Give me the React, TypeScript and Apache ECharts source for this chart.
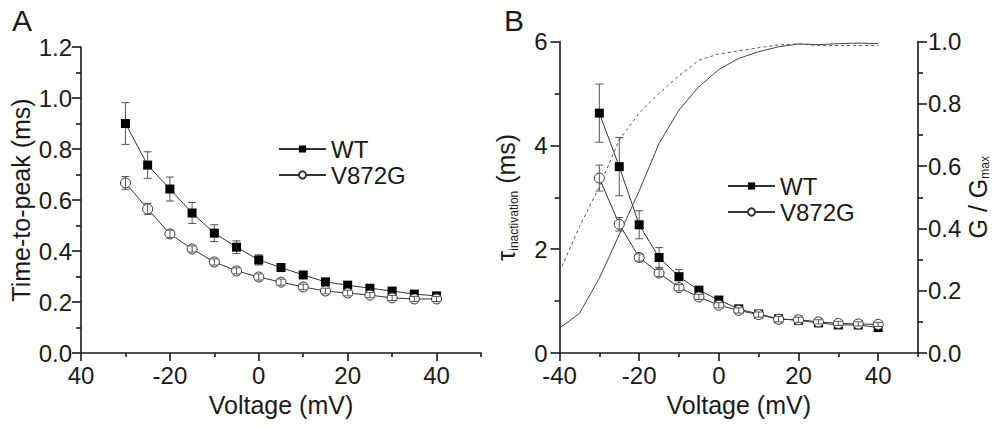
import React, { useEffect, useRef } from 'react';
import * as echarts from 'echarts';

// ---------- data ----------
const voltages = [-30, -25, -20, -15, -10, -5, 0, 5, 10, 15, 20, 25, 30, 35, 40];

// Panel A: time-to-peak (ms)
const ttpWT = [0.9, 0.737, 0.643, 0.549, 0.47, 0.415, 0.365, 0.335, 0.306, 0.279, 0.266, 0.254, 0.243, 0.231, 0.224];
const ttpWTErr = [0.082, 0.052, 0.047, 0.041, 0.033, 0.025, 0.02, 0.015, 0.012, 0.012, 0.01, 0.01, 0.01, 0.01, 0.01];
const ttpMut = [0.667, 0.565, 0.467, 0.408, 0.357, 0.322, 0.298, 0.278, 0.259, 0.243, 0.235, 0.227, 0.216, 0.212, 0.212];
const ttpMutErr = [0.025, 0.022, 0.015, 0.012, 0.012, 0.012, 0.012, 0.012, 0.011, 0.011, 0.011, 0.01, 0.01, 0.01, 0.01];

// Panel B: tau inactivation (ms)
const tauWT = [4.62, 3.59, 2.47, 1.84, 1.47, 1.21, 1.02, 0.85, 0.75, 0.66, 0.63, 0.58, 0.54, 0.54, 0.49];
const tauWTErr = [0.56, 0.56, 0.27, 0.19, 0.135, 0.07, 0.05, 0.04, 0.04, 0.04, 0.04, 0.04, 0.04, 0.04, 0.04];
const tauMut = [3.37, 2.48, 1.84, 1.54, 1.26, 1.08, 0.92, 0.82, 0.74, 0.65, 0.64, 0.6, 0.57, 0.56, 0.55];
const tauMutErr = [0.25, 0.13, 0.07, 0.07, 0.06, 0.05, 0.05, 0.05, 0.05, 0.05, 0.05, 0.04, 0.04, 0.04, 0.04];

// Panel B: G / Gmax curves
const gvVoltages = [-40, -35, -30, -25, -20, -15, -10, -5, 0, 5, 10, 15, 20, 25, 30, 35, 40];
const gvSolid = [0.08, 0.127, 0.24, 0.38, 0.52, 0.673, 0.78, 0.855, 0.91, 0.946, 0.967, 0.983, 0.992, 0.99, 0.993, 0.995, 0.993];
const gvDashed = [0.261, 0.405, 0.534, 0.684, 0.77, 0.834, 0.89, 0.94, 0.96, 0.97, 0.98, 0.989, 0.992, 0.987, 0.987, 0.987, 0.987];

// axis ticks / labels
const xMajorTicks = [-40, -20, 0, 20, 40];
const xMinorTicks = [-30, -10, 10, 30, 50];
const xLabelsA = ['40', '-20', '0', '20', '40'];
const xLabelsB = ['-40', '-20', '0', '20', '40'];
const legendNames = ['WT', 'V872G'];

// ---------- styling ----------
const FONT = '"Liberation Sans", Arial, Helvetica, sans-serif';
const AX = '#1a1a1a';
const LINE = '#333';
const ERR = '#555';

const pairs = (xs: number[], ys: number[]) => xs.map((x, i) => [x, ys[i]]);
const errPairs = (xs: number[], ys: number[], es: number[]) => xs.map((x, i) => [x, ys[i] - es[i], ys[i] + es[i]]);

const errRender = (params: any, api: any) => {
  const x = api.value(0);
  const lo = api.coord([x, api.value(1)]);
  const hi = api.coord([x, api.value(2)]);
  const w = 4;
  const st = { stroke: ERR, lineWidth: 1 };
  return {
    type: 'group',
    children: [
      { type: 'line', shape: { x1: lo[0], y1: lo[1], x2: hi[0], y2: hi[1] }, style: st },
      { type: 'line', shape: { x1: lo[0] - w, y1: lo[1], x2: lo[0] + w, y2: lo[1] }, style: st },
      { type: 'line', shape: { x1: hi[0] - w, y1: hi[1], x2: hi[0] + w, y2: hi[1] }, style: st },
    ],
  };
};

const axLine = { show: true, onZero: false, lineStyle: { color: AX, width: 1.6 } };
const labelStyle = { color: AX, fontSize: 24, fontFamily: FONT };
const nameStyle = { color: AX, fontSize: 25, fontFamily: FONT };

const mainX = (grid: number, labels: string[]) => ({
  type: 'value',
  gridIndex: grid,
  position: 'bottom',
  min: -40,
  max: 50,
  axisLine: axLine,
  splitLine: { show: false },
  axisTick: { show: true, customValues: xMajorTicks, length: 8, lineStyle: { color: AX, width: 1.6 } },
  axisLabel: {
    ...labelStyle,
    margin: 10,
    customValues: xMajorTicks,
    formatter: (v: number) => {
      const i = xMajorTicks.indexOf(v);
      return i >= 0 ? labels[i] : '';
    },
  },
  name: 'Voltage (mV)',
  nameLocation: 'middle',
  nameGap: 39,
  nameTextStyle: nameStyle,
});

const minorX = (grid: number) => ({
  type: 'value',
  gridIndex: grid,
  position: 'bottom',
  min: -40,
  max: 50,
  axisLine: { show: false, onZero: false },
  splitLine: { show: false },
  axisTick: { show: true, customValues: xMinorTicks, length: 4, lineStyle: { color: AX, width: 1.6 } },
  axisLabel: { show: false },
});

const lineSeries = (name: string, x: number, y: number, data: number[][], filled: boolean) => ({
  type: 'line',
  name,
  xAxisIndex: x,
  yAxisIndex: y,
  data,
  color: filled ? '#000' : '#fff',
  symbol: filled ? 'rect' : 'circle',
  symbolSize: filled ? 9 : 10,
  showAllSymbol: true,
  itemStyle: filled ? { color: '#000', borderWidth: 0 } : { color: '#fff', borderColor: LINE, borderWidth: 1 },
  lineStyle: { color: LINE, width: 1 },
  z: 3,
  silent: true,
});

const errSeries = (name: string, x: number, y: number, data: number[][], z: number) => ({
  type: 'custom',
  name,
  xAxisIndex: x,
  yAxisIndex: y,
  data,
  encode: { x: 0, y: [1, 2] },
  renderItem: errRender,
  z,
  silent: true,
});

const legendBase = {
  data: legendNames,
  orient: 'vertical',
  itemWidth: 47,
  itemHeight: 9,
  itemGap: 2,
  padding: 0,
  selectedMode: false,
  textStyle: { color: AX, fontSize: 24, fontFamily: FONT },
};

const subRich = {
  a: { fontSize: 25, fontFamily: FONT, color: AX, lineHeight: 28, verticalAlign: 'top' },
  b: { fontSize: 12, fontFamily: FONT, color: AX, lineHeight: 13, verticalAlign: 'top', padding: [14, 0, 0, 0] },
};

export default function App() {
  const ref = useRef<HTMLDivElement>(null);

  useEffect(() => {
    if (!ref.current) return;
    const chart = echarts.init(ref.current, undefined, { renderer: 'svg' });
    const option: any = {
      animation: false,
      backgroundColor: '#fff',
      textStyle: { fontFamily: FONT },
      grid: [
        { left: 81, right: 993 - 481, top: 47, bottom: 426 - 353, containLabel: false, outerBoundsMode: 'none' },
        { left: 559.5, right: 993 - 918, top: 41.5, bottom: 426 - 353, containLabel: false, outerBoundsMode: 'none' },
      ],
      xAxis: [mainX(0, xLabelsA), minorX(0), mainX(1, xLabelsB), minorX(1)],
      yAxis: [
        {
          type: 'value',
          gridIndex: 0,
          min: 0,
          max: 1.2,
          interval: 0.2,
          axisLine: axLine,
          splitLine: { show: false },
          axisTick: { show: true, length: 9, lineStyle: { color: AX, width: 1.6 } },
          minorTick: { show: true, splitNumber: 2, length: 5, lineStyle: { color: AX, width: 1.6 } },
          axisLabel: { ...labelStyle, margin: 9, formatter: (v: number) => v.toFixed(1) },
          name: 'Time-to-peak (ms)',
          nameLocation: 'middle',
          nameRotate: 90,
          nameGap: 48,
          nameTextStyle: nameStyle,
        },
        {
          type: 'value',
          gridIndex: 1,
          position: 'left',
          min: 0,
          max: 6,
          interval: 2,
          axisLine: axLine,
          splitLine: { show: false },
          axisTick: { show: true, length: 9, lineStyle: { color: AX, width: 1.6 } },
          minorTick: { show: true, splitNumber: 2, length: 5, lineStyle: { color: AX, width: 1.6 } },
          axisLabel: { ...labelStyle, margin: 12 },
          name: '{a|τ}{b|inactivation}{a| (ms)}',
          nameLocation: 'middle',
          nameRotate: 90,
          nameGap: 38,
          nameTextStyle: { ...nameStyle, rich: subRich },
        },
        {
          type: 'value',
          gridIndex: 1,
          position: 'right',
          min: 0,
          max: 1,
          interval: 0.2,
          axisLine: axLine,
          splitLine: { show: false },
          axisTick: { show: true, length: 9, lineStyle: { color: AX, width: 1.6 } },
          minorTick: { show: true, splitNumber: 2, length: 5, lineStyle: { color: AX, width: 1.6 } },
          axisLabel: { ...labelStyle, margin: 10, formatter: (v: number) => v.toFixed(1) },
          name: '{a|G / G}{b|max}',
          nameLocation: 'middle',
          nameRotate: 90,
          nameGap: 45,
          nameTextStyle: { ...nameStyle, rich: subRich },
        },
      ],
      legend: [
        { ...legendBase, left: 278, top: 137 },
        { ...legendBase, left: 727, top: 174 },
      ],
      graphic: [
        { type: 'text', left: 12, top: 5, style: { text: 'A', fontSize: 30, fontFamily: FONT, fill: AX } },
        { type: 'text', left: 504, top: 5, style: { text: 'B', fontSize: 30, fontFamily: FONT, fill: AX } },
      ],
      series: [
        // Panel A
        errSeries('WT err A', 0, 0, errPairs(voltages, ttpWT, ttpWTErr), 2),
        lineSeries('WT', 0, 0, pairs(voltages, ttpWT), true),
        lineSeries('V872G', 0, 0, pairs(voltages, ttpMut), false),
        errSeries('V872G err A', 0, 0, errPairs(voltages, ttpMut, ttpMutErr), 4),
        // Panel B: G/Gmax curves
        {
          type: 'line',
          name: 'G solid',
          xAxisIndex: 2,
          yAxisIndex: 2,
          data: pairs(gvVoltages, gvSolid),
          symbol: 'none',
          lineStyle: { color: '#444', width: 1 },
          z: 1,
          silent: true,
        },
        {
          type: 'line',
          name: 'G dashed',
          xAxisIndex: 2,
          yAxisIndex: 2,
          data: pairs(gvVoltages, gvDashed),
          symbol: 'none',
          lineStyle: { color: '#555', width: 1, type: [3, 3] },
          z: 1,
          silent: true,
        },
        // Panel B: tau
        errSeries('WT err B', 2, 1, errPairs(voltages, tauWT, tauWTErr), 2),
        lineSeries('WT', 2, 1, pairs(voltages, tauWT), true),
        lineSeries('V872G', 2, 1, pairs(voltages, tauMut), false),
        errSeries('V872G err B', 2, 1, errPairs(voltages, tauMut, tauMutErr), 4),
      ],
    };
    chart.setOption(option);
    return () => chart.dispose();
  }, []);

  return <div ref={ref} style={{ position: 'fixed', left: 0, top: 0, width: 993, height: 426, background: '#fff' }} />;
}
